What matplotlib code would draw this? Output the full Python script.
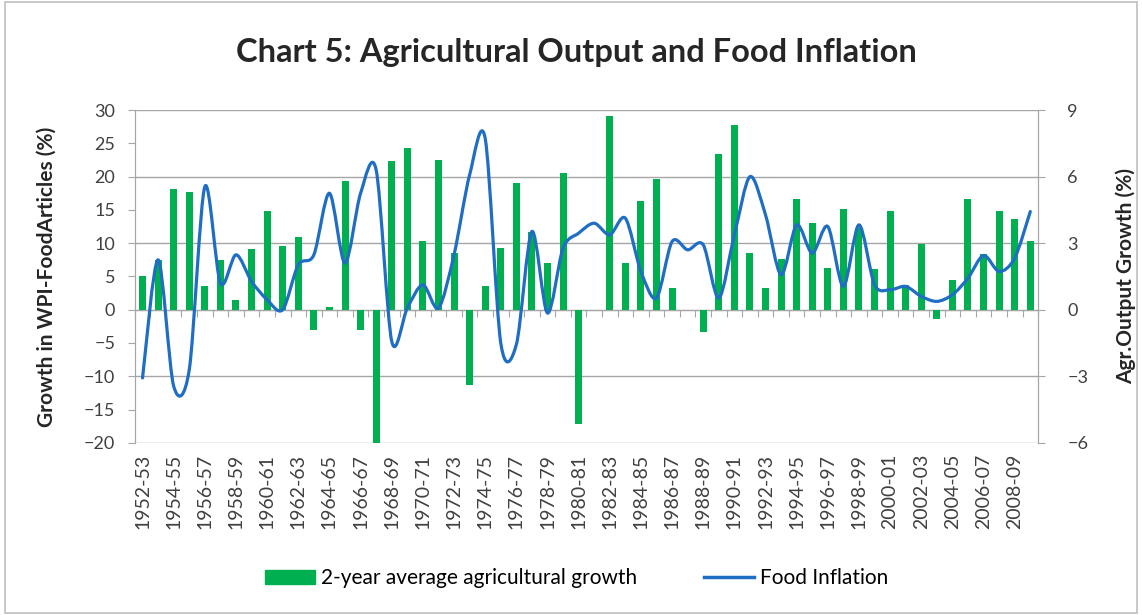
import matplotlib.pyplot as plt
from matplotlib.path import Path
from matplotlib.patches import PathPatch, Patch, Rectangle
from matplotlib.lines import Line2D

plt.rcParams['font.family'] = ['Lato', 'DejaVu Sans']

years = [f"{y}-{(y + 1) % 100:02d}" for y in range(1952, 2010)]

# 2-year average agricultural growth (%), right axis
agri_growth = [1.5, 2.25, 5.43, 5.3, 1.05, 2.25, 0.45, 2.75, 4.45, 2.85,
               3.3, -0.9, 0.12, 5.8, -0.9, -6.0, 6.7, 7.3, 3.1, 6.75,
               2.55, -3.4, 1.05, 2.8, 5.7, 3.5, 2.1, 6.15, -5.15, 0.0,
               8.75, 2.1, 4.9, 5.9, 1.0, 0.0, -1.0, 7.0, 8.35, 2.55,
               1.0, 2.3, 5.0, 3.93, 1.9, 4.55, 3.7, 1.85, 4.45, 1.1,
               2.95, -0.4, 1.35, 5.0, 2.5, 4.45, 4.1, 3.1]

# WPI food articles inflation (%), left axis
food_infl = [-10.25, 7.5, -11.5, -9.0, 18.5, 4.0, 8.25, 4.25, 1.5, 0.0,
             6.75, 8.25, 17.5, 7.0, 17.5, 21.0, -4.75, 0.25, 3.75, 0.25,
             8.25, 20.25, 25.75, -5.0, -5.25, 11.75, -0.5, 9.25, 11.5, 13.0,
             11.25, 13.75, 5.75, 1.75, 10.25, 9.0, 9.75, 1.75, 11.25, 20.0,
             14.25, 5.25, 12.75, 8.5, 12.5, 3.5, 12.75, 3.75, 3.0, 3.5,
             2.0, 1.25, 2.25, 4.75, 8.15, 5.75, 7.75, 14.75]

green = '#00B050'
blue = '#1F6EC4'
grey = '#A6A6A6'
text_col = '#262626'

fig = plt.figure(figsize=(11.42, 6.15), dpi=100)
fig.add_artist(Rectangle((0.004, 0.004), 0.992, 0.992, transform=fig.transFigure,
                         fill=False, edgecolor='#BFBFBF', linewidth=1.2))

ax2 = fig.add_axes([0.118, 0.280, 0.791, 0.541])
ax = ax2.twinx()
ax.yaxis.set_label_position('left')
ax.yaxis.tick_left()
ax2.yaxis.set_label_position('right')
ax2.yaxis.tick_right()
ax.set_zorder(ax2.get_zorder() + 1)
ax.patch.set_visible(False)

x = list(range(len(years)))
ax2.bar(x, agri_growth, width=0.45, color=green, zorder=3)

# smoothed line through the inflation points (cubic Bezier segments)
tension = 0.15
pts = list(zip(x, food_infl))
n = len(pts)
verts = [pts[0]]
codes = [Path.MOVETO]
for i in range(n - 1):
    p0 = pts[max(i - 1, 0)]
    p1 = pts[i]
    p2 = pts[i + 1]
    p3 = pts[min(i + 2, n - 1)]
    c1 = (p1[0] + (p2[0] - p0[0]) * tension, p1[1] + (p2[1] - p0[1]) * tension)
    c2 = (p2[0] - (p3[0] - p1[0]) * tension, p2[1] - (p3[1] - p1[1]) * tension)
    verts += [c1, c2, p2]
    codes += [Path.CURVE4] * 3
ax.add_patch(PathPatch(Path(verts, codes), fill=False, edgecolor=blue,
                       linewidth=2.3, capstyle='round', joinstyle='round'))

ax.set_ylim(-20, 30)
ax.set_yticks(range(-20, 31, 5))
ax2.set_ylim(-6, 9)
ax2.set_yticks(range(-6, 10, 3))
ax2.set_xlim(-0.5, len(years) - 0.5)

ax2.grid(axis='y', color=grey, linewidth=1.0, zorder=0)
ax2.set_axisbelow(True)

for a in (ax, ax2):
    for side in ('top', 'bottom'):
        a.spines[side].set_visible(False)
    a.spines['left'].set_color(grey)
    a.spines['right'].set_color(grey)
    a.tick_params(axis='y', colors='#404040', labelsize=13, length=5,
                  color=grey, pad=9)
ax2.tick_params(axis='y', pad=16)

ax2.set_xticks(x[::2])
ax2.set_xticklabels(years[::2], rotation=90, fontsize=14, color='#404040')
ax2.tick_params(axis='x', length=0, pad=8)

# category axis drawn along zero with ticks between categories
zero_ax = ax2.secondary_xaxis(0.4)
zero_ax.set_xticks([i - 0.5 for i in range(len(years) + 1)])
zero_ax.set_xticklabels([])
zero_ax.tick_params(axis='x', length=5, color=grey, direction='out')
zero_ax.spines['bottom'].set_color(grey)

ax.set_ylabel('Growth in WPI-FoodArticles (%)', fontsize=15, fontweight='bold',
              color=text_col, labelpad=20)
ax2.set_ylabel('Agr.Output Growth (%)', fontsize=15, fontweight='bold',
               color=text_col, labelpad=20)

fig.text(0.505, 0.915, 'Chart 5: Agricultural Output and Food Inflation',
         ha='center', va='center', fontsize=23.5, fontweight='bold', color=text_col)

handles = [Patch(facecolor=green, edgecolor=green),
           Line2D([0], [0], color=blue, linewidth=2.5)]
fig.legend(handles, ['2-year average agricultural growth', 'Food Inflation'],
           loc='center', bbox_to_anchor=(0.505, 0.06), ncol=2, frameon=False,
           fontsize=15, handlelength=2.4, columnspacing=3.2, handletextpad=0.3)

fig.savefig('out.png', dpi=100)
